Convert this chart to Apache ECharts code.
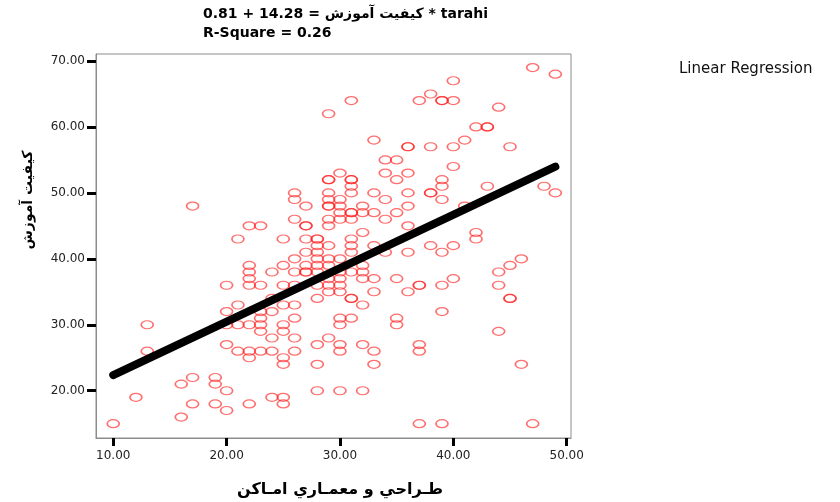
<!DOCTYPE html>
<html>
<head>
<meta charset="utf-8">
<script src="https://cdn.jsdelivr.net/npm/echarts@6/dist/echarts.min.js"></script>
<style>
html,body{margin:0;padding:0;background:#fff;}
#chart{width:840px;height:502px;}
</style>
</head>
<body>
<div id="chart"></div>
<script>
// x: طراحي و معماري اماكن (tarahi), y: کیفیت آموزش
const tarahi = [10,12,13,13,16,16,17,17,17,19,19,19,
  20,20,20,20,20,20,21,21,21,21,
  22,22,22,22,22,22,22,22,22,
  23,23,23,23,23,23,23,
  24,24,24,24,24,24,
  25,25,25,25,25,25,25,25,25,25,
  26,26,26,26,26,26,26,26,26,26,
  27,27,27,27,27,27,27,27,
  28,28,28,28,28,28,28,28,28,28,28,28,
  29,29,29,29,29,29,29,29,29,29,29,29,29,29,29,29,
  30,30,30,30,30,30,30,30,30,30,30,30,30,30,30,
  31,31,31,31,31,31,31,31,31,31,31,31,31,31,31,
  32,32,32,32,32,32,32,32,32,
  33,33,33,33,33,33,33,33,
  34,34,34,34,34,
  35,35,35,35,35,35,
  36,36,36,36,36,36,36,36,
  37,37,37,37,37,37,
  38,38,38,38,38,
  39,39,39,39,39,39,39,39,39,
  40,40,40,40,40,40,
  41,41,42,42,42,43,43,43,
  44,44,44,44,45,45,45,45,46,46,47,47,48,49,49];
const quality = [15,19,30,26,21,16,22,18,48,22,21,18,
  20,17,27,30,32,36,43,33,30,26,
  45,39,38,37,36,30,26,25,18,
  45,36,32,31,30,29,26,
  38,34,32,28,26,19,
  43,39,36,33,30,29,25,24,19,18,
  50,49,46,40,38,36,33,31,28,26,
  48,45,45,43,41,39,38,38,
  43,43,42,41,40,39,38,36,34,27,24,20,
  62,52,52,50,49,48,48,46,45,42,40,39,37,36,35,28,
  53,49,48,47,46,40,38,37,36,35,31,30,27,26,20,
  64,52,52,51,50,47,47,46,43,42,41,38,34,34,31,
  48,47,44,39,38,37,33,27,20,
  58,50,47,42,37,35,26,24,
  55,53,49,46,41,
  55,52,47,37,31,30,
  57,57,53,50,48,45,41,35,
  64,36,36,27,26,15,
  65,57,50,50,42,
  64,64,52,51,49,41,36,32,15,
  67,64,57,54,42,37,
  58,48,60,44,43,60,60,51,
  63,38,36,29,57,39,34,34,40,24,69,15,51,68,50];
const intercept = 14.28;
const slope = 0.81;
const rSquare = 0.26;
const xTicks = [10, 20, 30, 40, 50];
const yTicks = [20, 30, 40, 50, 60, 70];
const xName = 'طـراحي و معمـاري امـاكن';
const yName = 'کیفیت آموزش';
const legendName = 'Linear Regression';

const points = tarahi.map((x, i) => [x, quality[i]]);
const xMin = Math.min(...tarahi), xMax = Math.max(...tarahi);
const fitLine = [[xMin, intercept + slope * xMin], [xMax, intercept + slope * xMax]];

const line1 = slope.toFixed(2) + ' + ' + intercept.toFixed(2) + ' = ' + yName + ' * tarahi';
const line2 = 'R-Square = ' + rSquare.toFixed(2);

const FONT = '"DejaVu Sans", "Liberation Sans", sans-serif';
const chart = echarts.init(document.getElementById('chart'));
chart.setOption({
  animation: false,
  backgroundColor: '#fff',
  grid: {left: 96, right: 269, top: 54, bottom: 64, show: true, borderColor: '#8c8c8c', borderWidth: 1},
  xAxis: {
    type: 'value', min: 8.48, max: 50.38,
    axisLine: {show: true, lineStyle: {color: '#8c8c8c', width: 1}},
    splitLine: {show: false},
    axisTick: {show: true, customValues: xTicks, length: 8, lineStyle: {color: '#000', width: 3}},
    axisLabel: {customValues: xTicks, formatter: v => Number(v).toFixed(2), margin: 12, fontSize: 12, fontFamily: FONT, color: '#222'}
  },
  yAxis: {
    type: 'value', min: 12.83, max: 71.06,
    axisLine: {show: true, lineStyle: {color: '#8c8c8c', width: 1}},
    splitLine: {show: false},
    axisTick: {show: true, customValues: yTicks, length: 9, lineStyle: {color: '#000', width: 3}},
    axisLabel: {customValues: yTicks, formatter: v => Number(v).toFixed(2), margin: 11, fontSize: 12, fontFamily: FONT, color: '#222'}
  },
  series: [
    {
      type: 'scatter', name: 'data', data: points,
      symbol: 'path://M0,4 A6,4 0 1,1 12,4 A6,4 0 1,1 0,4 Z',
      symbolSize: [12, 8],
      itemStyle: {color: 'rgba(0,0,0,0)', borderColor: 'rgba(255,30,30,0.8)', borderWidth: 1.4},
      z: 2
    },
    {
      type: 'line', name: legendName, data: fitLine, symbol: 'none',
      lineStyle: {color: '#000', width: 8, cap: 'round'}, z: 3
    }
  ],
  graphic: [
    {type: 'text', left: 203, top: 7, style: {text: line1, font: 'bold 14px ' + FONT, fill: '#000'}},
    {type: 'text', left: 203, top: 26, style: {text: line2, font: 'bold 14px ' + FONT, fill: '#000'}},
    {type: 'text', left: 679, top: 62, style: {text: legendName, font: '15px ' + FONT, fill: '#111'}},
    {type: 'text', x: 28, y: 200, rotation: Math.PI / 2, style: {text: yName, font: 'bold 14px ' + FONT, fill: '#000', align: 'center', verticalAlign: 'middle'}},
    {type: 'text', x: 340, y: 490, style: {text: xName, font: 'bold 16px ' + FONT, fill: '#000', align: 'center', verticalAlign: 'middle'}}
  ]
});
</script>
</body>
</html>
